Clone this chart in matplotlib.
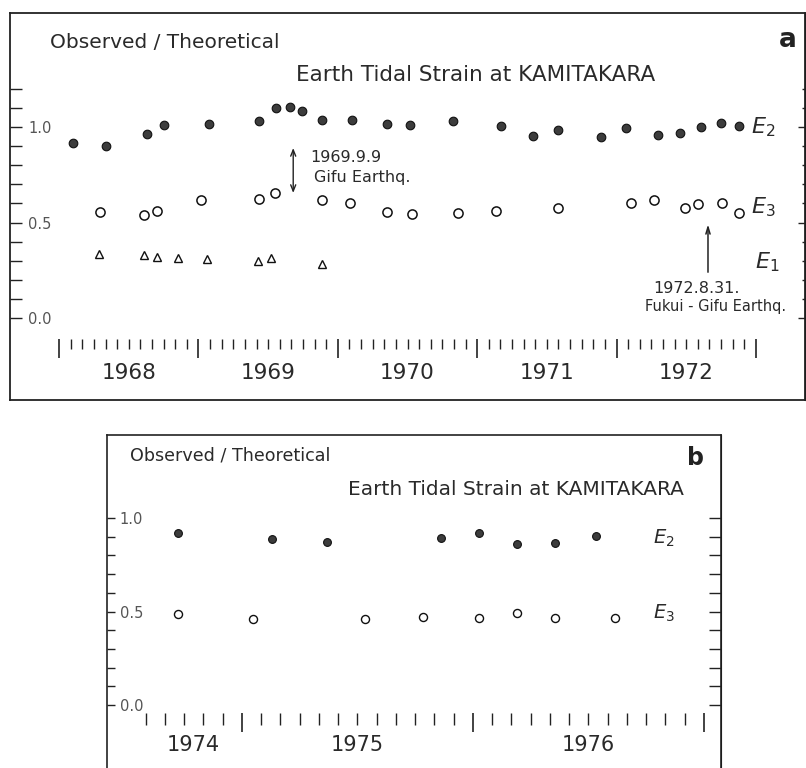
import matplotlib
matplotlib.use('Agg')
import matplotlib.pyplot as plt
from matplotlib.ticker import FixedLocator, FormatStrFormatter, NullFormatter

# ---------------- data: panel a (1968-1972) ----------------
a_e2_t = [1968.10, 1968.335, 1968.633, 1968.75, 1969.076, 1969.435, 1969.56, 1969.66,
          1969.74, 1969.89, 1970.10, 1970.355, 1970.52, 1970.83, 1971.17, 1971.40,
          1971.58, 1971.89, 1972.07, 1972.295, 1972.455, 1972.605, 1972.75, 1972.88]
a_e2_v = [0.918, 0.900, 0.962, 1.009, 1.017, 1.033, 1.100, 1.103,
          1.085, 1.037, 1.037, 1.014, 1.010, 1.031, 1.007, 0.953,
          0.984, 0.949, 0.993, 0.958, 0.970, 1.002, 1.019, 1.005]
a_e3_t = [1968.296, 1968.607, 1968.70, 1969.02, 1969.435, 1969.55, 1969.89, 1970.09,
          1970.355, 1970.535, 1970.865, 1971.135, 1971.58, 1972.10, 1972.27, 1972.49,
          1972.586, 1972.76, 1972.88]
a_e3_v = [0.557, 0.539, 0.559, 0.616, 0.621, 0.656, 0.618, 0.604,
          0.557, 0.545, 0.551, 0.560, 0.577, 0.600, 0.618, 0.574,
          0.597, 0.600, 0.551]
a_e1_t = [1968.29, 1968.61, 1968.70, 1968.856, 1969.064, 1969.43, 1969.52, 1969.89]
a_e1_v = [0.335, 0.330, 0.321, 0.313, 0.309, 0.298, 0.316, 0.283]
a_years = [1968, 1969, 1970, 1971, 1972, 1973]
a_year_labels = ['1968', '1969', '1970', '1971', '1972']

# ---------------- data: panel b (1974-1976) ----------------
b_e2_t = [1974.722, 1975.129, 1975.367, 1975.864, 1976.025, 1976.193, 1976.355, 1976.532]
b_e2_v = [0.918, 0.888, 0.870, 0.891, 0.918, 0.861, 0.865, 0.904]
b_e3_t = [1974.722, 1975.046, 1975.532, 1975.782, 1976.025, 1976.193, 1976.355, 1976.616]
b_e3_v = [0.485, 0.460, 0.460, 0.472, 0.464, 0.490, 0.464, 0.467]
b_years = [1975, 1976, 1977]
b_start = 1974 + 7 / 12
b_year_labels = ['1974', '1975', '1976']
b_label_pos = [1974.79, 1975.5, 1976.5]

y_major = [0.0, 0.5, 1.0]

INK = '#222222'
TXT = '#2a2a2a'
FILL = '#3c3c3c'
GREY = '#555555'

fig = plt.figure(figsize=(8.06, 7.68), dpi=100)


def style_box(ax, lw=1.3):
    for s in ax.spines.values():
        s.set_linewidth(lw)
        s.set_color(INK)
    ax.set_xticks([])


def time_axis(ax, loc, years, months, major_len, minor_len):
    sec = ax.secondary_xaxis(loc)
    sec.spines['bottom'].set_visible(False)
    sec.spines['top'].set_visible(False)
    sec.set_xticks(years)
    sec.xaxis.set_minor_locator(FixedLocator(months))
    sec.xaxis.set_major_formatter(NullFormatter())
    sec.xaxis.set_minor_formatter(NullFormatter())
    sec.tick_params(which='major', direction='out', length=major_len, width=1.2, color=INK)
    sec.tick_params(which='minor', direction='out', length=minor_len, width=1.0, color=INK)
    return sec


# ======================= panel a =======================
axa = fig.add_axes([10 / 806, 1 - 400 / 768, 795 / 806, 387 / 768])
axa.set_xlim(1967.648, 1973.352)
axa.set_ylim(-0.429, 1.597)
style_box(axa)

axa.plot(a_e2_t, a_e2_v, 'o', ms=6.2, mfc=FILL, mec='#111111', mew=0.8, ls='none')
axa.plot(a_e3_t, a_e3_v, 'o', ms=6.6, mfc='white', mec='#111111', mew=1.1, ls='none')
axa.plot(a_e1_t, a_e1_v, '^', ms=6.2, mfc='white', mec='#111111', mew=1.0, ls='none')

a_minor = [round(0.1 * i, 1) for i in range(0, 13) if i not in (0, 5, 10)]
axa.yaxis.set_major_locator(FixedLocator(y_major))
axa.yaxis.set_minor_locator(FixedLocator(a_minor))
axa.yaxis.set_major_formatter(FormatStrFormatter('%.1f'))
axa.tick_params(axis='y', which='both', direction='in', length=8.6, width=1.0,
                color=INK, left=True, right=False, pad=-30, labelsize=10.5,
                labelcolor=GREY)
sya = axa.secondary_yaxis('right')
sya.yaxis.set_major_locator(FixedLocator(y_major))
sya.yaxis.set_minor_locator(FixedLocator(a_minor))
sya.yaxis.set_major_formatter(NullFormatter())
sya.tick_params(which='major', direction='in', length=5, width=1.0, color=INK)
sya.tick_params(which='minor', direction='in', length=2.5, width=1.0, color=INK)

a_months = [a_years[0] + i / 12 for i in range(12 * (a_years[-1] - a_years[0]) + 1)]
time_axis(axa, (400 - 339) / 387, a_years, a_months, 13.5, 7.5)
for lab, y0 in zip(a_year_labels, a_years):
    axa.text(y0 + 0.5, -0.288, lab, ha='center', va='center', fontsize=15.5, color=TXT)

axa.text(1967.935, 1.445, 'Observed / Theoretical', ha='left', va='center',
         fontsize=14.5, color=TXT)
axa.text(1970.99, 1.272, 'Earth Tidal Strain at KAMITAKARA', ha='center', va='center',
         fontsize=15.5, color=TXT)
axa.text(1973.23, 1.455, 'a', ha='center', va='center', fontsize=19,
         fontweight='bold', color=INK)

axa.annotate('', xy=(1969.68, 0.655), xytext=(1969.68, 0.89),
             arrowprops=dict(arrowstyle='<->,head_length=0.45,head_width=0.18',
                             lw=1.0, color=INK, shrinkA=0, shrinkB=0))
axa.text(1969.80, 0.838, '1969.9.9', ha='left', va='center', fontsize=11.5, color=TXT)
axa.text(1969.83, 0.738, 'Gifu Earthq.', ha='left', va='center', fontsize=11.5, color=TXT)

axa.annotate('', xy=(1972.656, 0.49), xytext=(1972.656, 0.24),
             arrowprops=dict(arrowstyle='->,head_length=0.5,head_width=0.15',
                             lw=1.1, color=INK, shrinkA=0, shrinkB=0))
axa.text(1972.57, 0.157, '1972.8.31.', ha='center', va='center', fontsize=11.5, color=TXT)
axa.text(1973.215, 0.058, 'Fukui - Gifu Earthq.', ha='right', va='center',
         fontsize=10.5, color=TXT)

axa.text(1972.964, 1.0, r'$E_2$', ha='left', va='center', fontsize=16, color=TXT)
axa.text(1972.964, 0.58, r'$E_3$', ha='left', va='center', fontsize=16, color=TXT)
axa.text(1972.99, 0.293, r'$E_1$', ha='left', va='center', fontsize=16, color=TXT)

# ======================= panel b =======================
axb = fig.add_axes([107 / 806, 0.0, 614 / 806, 333 / 768])
axb.set_xlim(1974.416, 1977.074)
axb.set_ylim(-0.337, 1.444)
style_box(axb, lw=1.2)
axb.spines['bottom'].set_visible(False)

axb.plot(b_e2_t, b_e2_v, 'o', ms=5.6, mfc=FILL, mec='#111111', mew=0.8, ls='none')
axb.plot(b_e3_t, b_e3_v, 'o', ms=5.8, mfc='white', mec='#111111', mew=1.0, ls='none')

b_minor = [round(0.1 * i, 1) for i in range(0, 11) if i not in (0, 5, 10)]
axb.yaxis.set_major_locator(FixedLocator(y_major))
axb.yaxis.set_minor_locator(FixedLocator(b_minor))
axb.yaxis.set_major_formatter(FormatStrFormatter('%.1f'))
axb.tick_params(axis='y', which='both', direction='in', length=5.5, width=1.0,
                color=INK, left=True, right=False, pad=-26, labelsize=10.5,
                labelcolor=GREY)
syb = axb.secondary_yaxis('right')
syb.yaxis.set_major_locator(FixedLocator(y_major))
syb.yaxis.set_minor_locator(FixedLocator(b_minor))
syb.yaxis.set_major_formatter(NullFormatter())
syb.tick_params(which='both', direction='in', length=8.6, width=1.0, color=INK)

b_months = [b_start + i / 12 for i in range(int(round((b_years[-1] - b_start) * 12)) + 1)]
time_axis(axb, (768 - 713) / 333, b_years, b_months, 13.5, 8.5)
for lab, xp in zip(b_year_labels, b_label_pos):
    axb.text(xp, -0.214, lab, ha='center', va='center', fontsize=15, color=TXT)

axb.text(1974.515, 1.332, 'Observed / Theoretical', ha='left', va='center',
         fontsize=12.6, color=TXT)
axb.text(1976.186, 1.15, 'Earth Tidal Strain at KAMITAKARA', ha='center', va='center',
         fontsize=14.5, color=TXT)
axb.text(1976.965, 1.321, 'b', ha='center', va='center', fontsize=17,
         fontweight='bold', color=INK)
axb.text(1976.78, 0.893, r'$E_2$', ha='left', va='center', fontsize=14, color=TXT)
axb.text(1976.78, 0.492, r'$E_3$', ha='left', va='center', fontsize=14, color=TXT)

fig.savefig('out.png', dpi=100)
